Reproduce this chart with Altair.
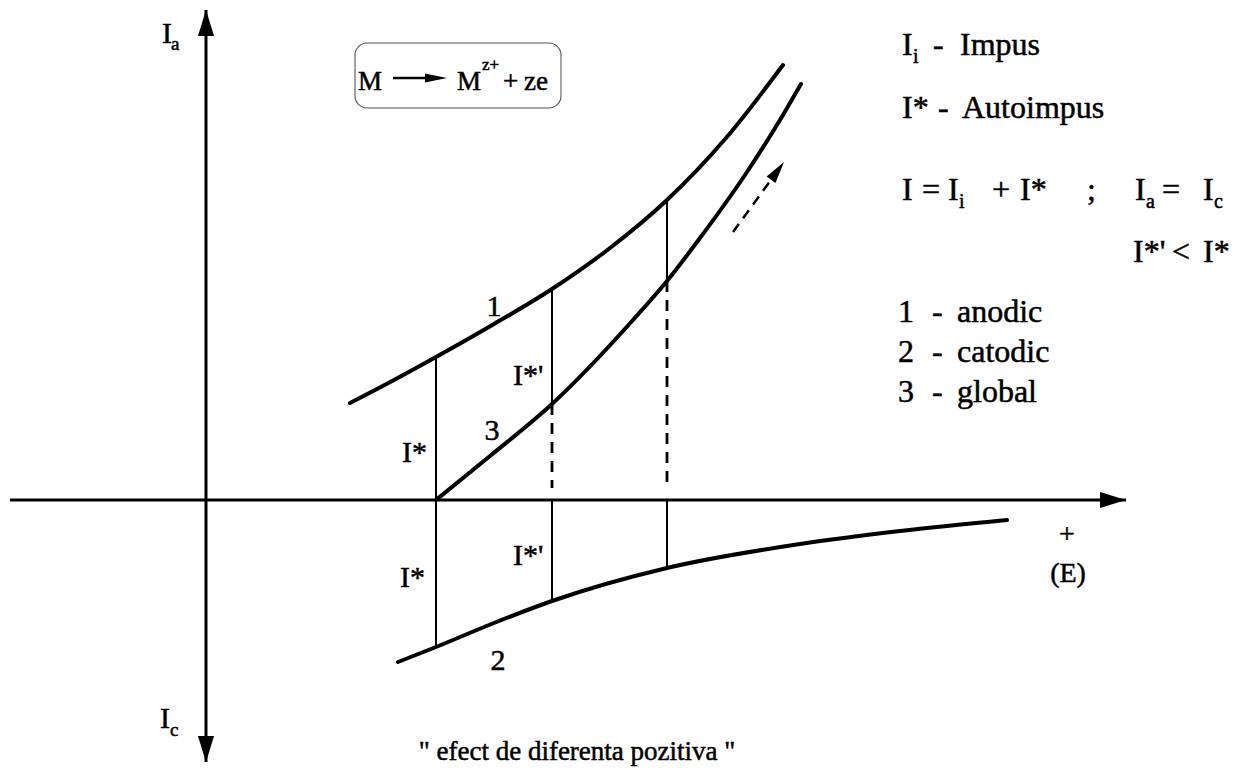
import math

import altair as alt
import pandas as pd

# ---- polarisation curves (E measured from the origin, I positive = anodic) ----
anodic_E = [144, 188, 230, 288, 346, 404, 461, 520, 577]
anodic_I = [97, 120, 143, 176, 211, 252, 300, 362, 435]

global_E = [230, 284, 346, 427, 461, 494, 539, 577, 595]
global_I = [0, 44, 96, 180, 219, 262, 325, 385, 416]

cathodic_E = [192, 230, 288, 346, 461, 594, 694, 801]
cathodic_I = [-162, -147, -123, -101, -68, -44, -31, -20]

# potentials at which the currents are compared
marker_E = [230, 346, 461]

# coordinate frame
E_MIN, E_MAX = -206, 1033
I_MIN, I_MAX = -269, 500
AXIS_I_LOW, AXIS_I_HIGH = -262, 490
AXIS_E_LOW, AXIS_E_HIGH = -196, 920

# direction arrow beside the global curve (tail, tip)
trend_tail = (527, 268)
trend_tip = (578, 338)

FONT = "Liberation Serif"
W, H = 1239, 769

xs = alt.Scale(domain=[E_MIN, E_MAX], nice=False, zero=False)
ys = alt.Scale(domain=[I_MIN, I_MAX], nice=False, zero=False)


def X(f="E"):
    return alt.X(f"{f}:Q", scale=xs, axis=None)


def Y(f="I"):
    return alt.Y(f"{f}:Q", scale=ys, axis=None)


def curve(E, I):
    return pd.DataFrame({"E": E, "I": I})


# ---- curves ----
curves = pd.concat([
    curve(anodic_E, anodic_I).assign(c="1"),
    curve(global_E, global_I).assign(c="3"),
    curve(cathodic_E, cathodic_I).assign(c="2"),
])
curve_layer = alt.Chart(curves).mark_line(
    interpolate="monotone", strokeWidth=4, color="black", strokeCap="round"
).encode(x=X(), y=Y(), detail="c:N")

# ---- vertical connectors between the curves ----
a_at = dict(zip(anodic_E, anodic_I))
g_at = dict(zip(global_E, global_I))
c_at = dict(zip(cathodic_E, cathodic_I))
solid_rows, dashed_rows = [], []
for e in marker_E:
    if g_at[e] == 0:
        solid_rows.append({"E": e, "I": a_at[e], "I2": c_at[e]})
    else:
        solid_rows.append({"E": e, "I": a_at[e], "I2": g_at[e]})
        dashed_rows.append({"E": e, "I": g_at[e], "I2": 12})
        solid_rows.append({"E": e, "I": 0, "I2": c_at[e]})

solid_layer = alt.Chart(pd.DataFrame(solid_rows)).mark_rule(
    strokeWidth=2, color="black"
).encode(x=X(), y=Y(), y2="I2:Q")
dashed_layer = alt.Chart(pd.DataFrame(dashed_rows)).mark_rule(
    strokeWidth=2.8, color="black", strokeDash=[11, 8]
).encode(x=X(), y=Y(), y2="I2:Q")

# ---- axes with arrowheads ----
axes_df = pd.DataFrame([
    {"E": 0, "E2": 0, "I": AXIS_I_LOW, "I2": AXIS_I_HIGH},
    {"E": AXIS_E_LOW, "E2": AXIS_E_HIGH, "I": 0, "I2": 0},
])
axes_layer = alt.Chart(axes_df).mark_rule(strokeWidth=3, color="black").encode(
    x=X(), x2="E2:Q", y=Y(), y2="I2:Q"
)

HEAD = "M0,-1L0.62,1L-0.62,1Z"
HEAD_LEN = 26
heads_df = pd.DataFrame([
    {"E": 0, "I": AXIS_I_HIGH - HEAD_LEN / 2, "ang": 0},
    {"E": 0, "I": AXIS_I_LOW + HEAD_LEN / 2, "ang": 180},
    {"E": AXIS_E_HIGH - HEAD_LEN / 2, "I": 0, "ang": 90},
])
heads_layer = alt.Chart(heads_df).mark_point(
    shape=HEAD, filled=True, color="black", opacity=1, size=HEAD_LEN ** 2, strokeWidth=0
).encode(x=X(), y=Y(), angle=alt.Angle("ang:Q", scale=None))

# ---- dashed trend arrow ----
dx, dy = trend_tip[0] - trend_tail[0], trend_tip[1] - trend_tail[1]
L = math.hypot(dx, dy)
ux, uy = dx / L, dy / L
SMALL_LEN = 22
trend_line = alt.Chart(pd.DataFrame({
    "E": [trend_tail[0], trend_tip[0] - SMALL_LEN * ux],
    "I": [trend_tail[1], trend_tip[1] - SMALL_LEN * uy],
})).mark_line(strokeWidth=2.5, color="black", strokeDash=[10, 7]).encode(x=X(), y=Y())
trend_head = alt.Chart(pd.DataFrame({
    "E": [trend_tip[0] - SMALL_LEN / 2 * ux],
    "I": [trend_tip[1] - SMALL_LEN / 2 * uy],
    "ang": [math.degrees(math.atan2(dx, dy))],
})).mark_point(
    shape="M0,-1L0.5,1L-0.5,1Z", filled=True, color="black", opacity=1,
    size=SMALL_LEN ** 2, strokeWidth=0
).encode(x=X(), y=Y(), angle=alt.Angle("ang:Q", scale=None))

# ---- reaction box ----
box_layer = alt.Chart(pd.DataFrame([{"E": 149, "E2": 355, "I": 392, "I2": 457}])).mark_rect(
    cornerRadius=12, fillOpacity=0, stroke="#555", strokeWidth=1.1
).encode(x=X(), x2="E2:Q", y=Y(), y2="I2:Q")
react_arrow = alt.Chart(pd.DataFrame([{"E": 187, "E2": 222, "I": 422}])).mark_rule(
    strokeWidth=2.5, color="black"
).encode(x=X(), x2="E2:Q", y=Y())
react_head = alt.Chart(pd.DataFrame([{"E": 230, "I": 422, "ang": 90}])).mark_point(
    shape="M0,-1L0.42,1L-0.42,1Z", filled=True, color="black", opacity=1,
    size=484, strokeWidth=0
).encode(x=X(), y=Y(), angle=alt.Angle("ang:Q", scale=None))


def text_layer(rows, size, align="left"):
    df = pd.DataFrame(rows, columns=["E", "I", "t"])
    return alt.Chart(df).mark_text(
        font=FONT, fontSize=size, align=align, baseline="alphabetic",
        color="black", stroke="black", strokeWidth=0.5
    ).encode(x=X(), y=Y(), text="t:N")


# right-hand legend text (main glyphs)
legend_main = [
    (696, 445, "I"), (727, 445, "-"), (754, 445, "Impus"),
    (696, 382, "I*"), (732, 382, "-"), (756, 382, "Autoimpus"),
    (696, 300, "I"), (716, 300, "="), (742, 300, "I"), (786, 300, "+"),
    (814, 300, "I*"), (881, 300, ";"), (929, 300, "I"), (956, 300, "="), (997, 300, "I"),
    (927, 238, "I*'"), (966, 238, "<"), (997, 238, "I*"),
    (692, 178, "1"), (726, 178, "-"), (751, 178, "anodic"),
    (692, 138, "2"), (726, 138, "-"), (751, 138, "catodic"),
    (692, 98, "3"), (726, 98, "-"), (751, 98, "global"),
]
legend_sub = [
    (707, 437, "i"), (753, 292, "i"), (940, 292, "a"), (1008, 292, "c"),
]

# reaction inside the box
react_main = [(152, 410, "M"), (251, 410, "M"), (297, 410, "+"), (318, 410, "ze")]
react_sup = [(276, 430, "z+")]

# curve and segment labels
curve_labels_left = [
    (196, 38, "I*"), (307, 115, "I*'"), (194, -87, "I*"), (307, -65, "I*'"),
]
curve_labels_center = [(288, 184, "1"), (286, 60, "3"), (292, -170, "2")]

# axis labels
axis_main = [(-44, 457, "I"), (-46, -228, "I")]
axis_sub = [(-35, 450, "a"), (-36, -236, "c")]
e_label = [(861, -43, "+"), (862, -82, "(E)")]
caption = [(371, -260, "\" efect de diferenta pozitiva \"")]

chart = alt.layer(
    box_layer,
    axes_layer,
    heads_layer,
    solid_layer,
    dashed_layer,
    curve_layer,
    trend_line,
    trend_head,
    react_arrow,
    react_head,
    text_layer(legend_main, 32),
    text_layer(legend_sub, 20),
    text_layer(react_main, 27),
    text_layer(react_sup, 17),
    text_layer(curve_labels_left, 30),
    text_layer(curve_labels_center, 30, align="center"),
    text_layer(axis_main, 30),
    text_layer(axis_sub, 19),
    text_layer(e_label, 28, align="center"),
    text_layer(caption, 27, align="center"),
).properties(
    width=W, height=H, padding=0, background="white",
    autosize=alt.AutoSizeParams(type="none"),
).configure_view(stroke=None)

chart.save("out.html", embed_options={"renderer": "svg", "actions": False})
